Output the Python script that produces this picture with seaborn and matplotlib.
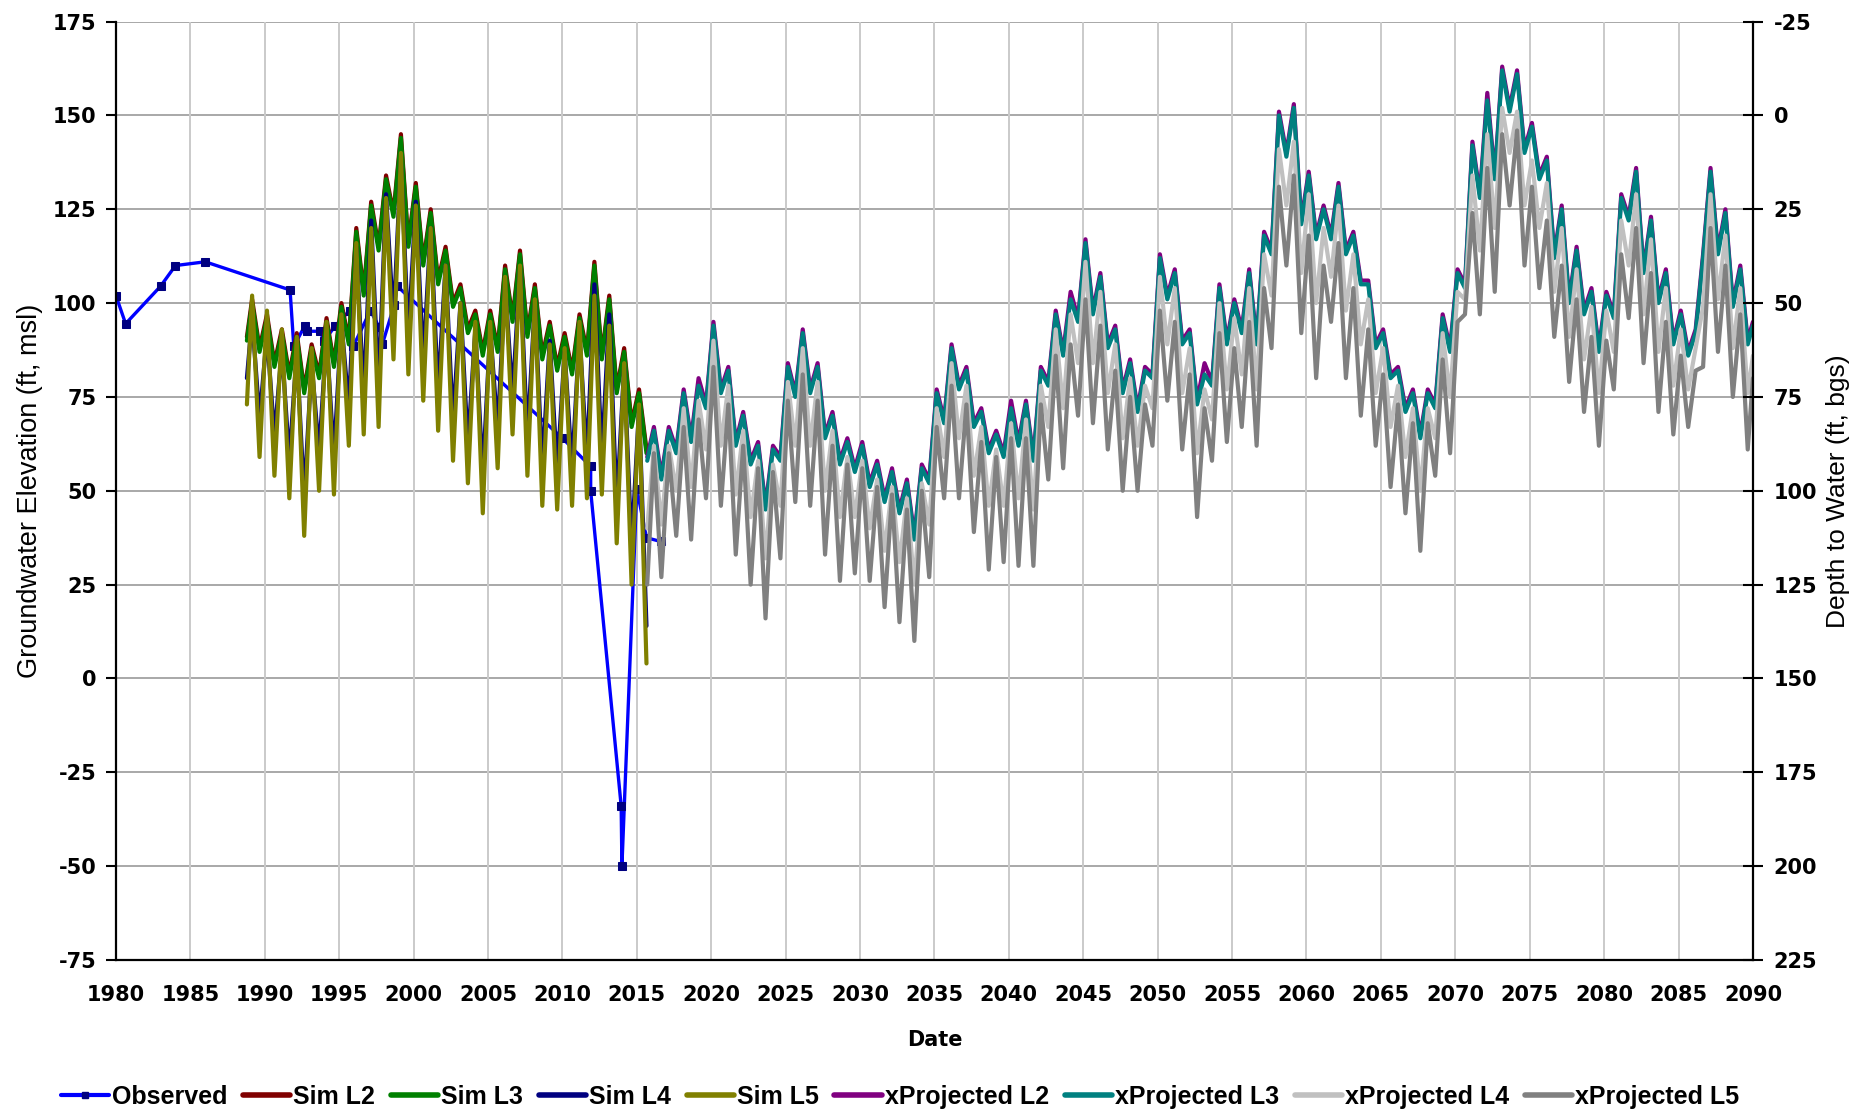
import matplotlib
matplotlib.use("Agg")
import matplotlib.pyplot as plt
import pandas as pd
import seaborn as sns
from matplotlib.lines import Line2D

# ---------------- data ----------------
# Observed groundwater elevations (decimal year, ft msl)
obs_year = [1980.0, 1980.65, 1983.0, 1984.0, 1986.0, 1991.7, 1991.95, 1992.7, 1992.85,
            1993.7, 1994.0, 1994.75, 1995.7, 1995.95, 1997.1, 1997.7, 1997.9, 1998.7,
            1998.9, 2010.0, 2011.9, 2011.9, 2013.95, 2014.0, 2015.0, 2015.65, 2016.6]
obs_elev = [102, 94.5, 104.5, 110, 111, 103.5, 88.5, 94, 92.5,
            92.5, 90, 94, 98, 88.5, 98, 93.5, 89, 99.5,
            104.5, 64, 56.5, 50, -34, -50, 50.5, 37.5, 36.5]

# Simulated period: annual high / low per year
sim_years = list(range(1989, 2016))
sim_first_year = 1988.8
sim_first = {"L2": 91, "L3": 90, "L4": 80, "L5": 73}
sim_l2_high = [101, 97, 93, 92, 89, 96, 100, 120, 127, 134, 145, 132, 125, 115, 105, 98, 98, 110, 114, 105, 95, 92, 97, 111, 102, 88, 77]
sim_l2_low = [88, 84, 81, 77, 81, 84, 90, 103, 115, 124, 116, 111, 106, 100, 93, 87, 88, 96, 92, 86, 83, 82, 87, 86, 77, 68, 61]
sim_l3_high = [100, 96, 92, 91, 88, 95, 99, 119, 126, 133, 144, 131, 124, 114, 104, 97, 97, 109, 113, 104, 94, 91, 96, 110, 101, 87, 76]
sim_l3_low = [87, 83, 80, 76, 80, 83, 89, 102, 114, 123, 115, 110, 105, 99, 92, 86, 87, 95, 91, 85, 82, 81, 86, 85, 76, 67, 60]
sim_l4_high = [96, 92, 88, 87, 84, 91, 95, 115, 122, 129, 138, 127, 120, 110, 100, 93, 93, 105, 109, 100, 90, 87, 92, 105, 97, 83, 72]
sim_l4_low = [69, 64, 58, 48, 60, 59, 72, 75, 77, 95, 91, 84, 76, 68, 62, 54, 66, 75, 64, 56, 55, 56, 58, 59, 46, 35, 14]
sim_l5_high = [102, 98, 93, 91, 88, 95, 97, 116, 120, 128, 140, 126, 120, 110, 100, 95, 95, 107, 110, 101, 89, 88, 95, 102, 94, 84, 73]
sim_l5_low = [59, 54, 48, 38, 50, 49, 62, 65, 67, 85, 81, 74, 66, 58, 52, 44, 56, 65, 54, 46, 45, 46, 48, 49, 36, 25, 4]

# Projected period: annual high / low per year
proj_years = list(range(2016, 2090))
proj_first_year, proj_last_year = 2015.7, 2090.0
proj_first = {"L2": 59, "L3": 58, "L4": 40, "L5": 25}
proj_last = {"L2": 95, "L3": 94, "L4": 86, "L5": 80}
proj_l3_high = [66, 66, 76, 78, 94, 82, 70, 62, 61, 83,
                92, 83, 70, 63, 62, 57, 55, 52, 56, 76,
                88, 82, 71, 65, 72, 73, 82, 97, 101, 116,
                107, 93, 84, 82, 112, 108, 92, 81, 104, 100,
                108, 118, 150, 152, 134, 125, 131, 118, 105, 92,
                82, 76, 76, 96, 108, 142, 154, 162, 161, 147,
                138, 125, 114, 103, 102, 128, 135, 122, 108, 97,
                92, 135, 124, 109]
proj_l3_low = [53, 60, 63, 72, 76, 62, 57, 45, 58, 75,
               76, 64, 57, 55, 51, 47, 44, 37, 52, 68,
               77, 67, 60, 59, 62, 58, 78, 86, 95, 97,
               88, 76, 71, 80, 101, 89, 73, 78, 89, 92,
               89, 113, 139, 121, 117, 117, 113, 105, 88, 80,
               71, 64, 72, 87, 104, 128, 133, 151, 140, 133,
               112, 100, 97, 87, 96, 122, 108, 100, 89, 86,
               112, 113, 99, 89]
proj_l2_high = [67, 67, 77, 80, 95, 83, 71, 63, 62, 84,
                93, 84, 71, 64, 63, 58, 56, 53, 57, 77,
                89, 83, 72, 66, 74, 74, 83, 98, 103, 117,
                108, 94, 85, 83, 113, 109, 93, 84, 105, 101,
                109, 119, 151, 153, 135, 126, 132, 119, 106, 93,
                83, 77, 77, 97, 109, 143, 156, 163, 162, 148,
                139, 126, 115, 104, 103, 129, 136, 123, 109, 98,
                93, 136, 125, 110]
proj_l2_low = [54, 61, 64, 73, 77, 63, 58, 46, 59, 76,
               77, 65, 58, 56, 52, 48, 45, 38, 53, 69,
               78, 68, 61, 60, 63, 59, 79, 87, 96, 98,
               89, 77, 72, 81, 102, 90, 74, 79, 90, 93,
               90, 114, 140, 122, 118, 118, 114, 106, 89, 81,
               72, 65, 73, 88, 105, 129, 134, 152, 141, 134,
               113, 101, 98, 88, 97, 123, 109, 101, 90, 87,
               113, 114, 100, 90]
proj_l4_high = [62, 62, 72, 74, 90, 78, 66, 58, 57, 79,
                88, 79, 66, 59, 58, 53, 51, 48, 52, 72,
                84, 78, 67, 61, 68, 69, 78, 93, 97, 111,
                103, 89, 80, 78, 107, 104, 88, 77, 100, 96,
                104, 113, 141, 143, 129, 120, 126, 113, 101, 88,
                78, 72, 72, 92, 103, 134, 145, 152, 151, 138,
                132, 120, 109, 99, 98, 122, 129, 117, 104, 93,
                88, 129, 118, 104]
proj_l4_low = [41, 50, 51, 61, 62, 49, 43, 32, 46, 62,
               62, 50, 43, 43, 40, 34, 31, 25, 41, 59,
               64, 54, 46, 46, 48, 45, 67, 72, 84, 84,
               76, 64, 62, 72, 89, 76, 60, 69, 77, 81,
               77, 102, 126, 108, 100, 107, 98, 89, 76, 67,
               59, 50, 64, 75, 101, 114, 120, 140, 126, 120,
               103, 91, 85, 76, 87, 110, 97, 87, 78, 77,
               99, 101, 88, 76]
proj_l5_high = [60, 60, 67, 69, 83, 73, 62, 56, 55, 74,
                81, 74, 62, 57, 56, 51, 49, 45, 50, 67,
                78, 73, 63, 59, 64, 64, 73, 86, 89, 101,
                94, 82, 75, 73, 98, 95, 81, 72, 92, 88,
                95, 104, 131, 134, 118, 110, 116, 104, 93, 81,
                73, 68, 68, 85, 95, 124, 136, 145, 146, 131,
                122, 110, 101, 91, 90, 113, 120, 108, 95, 86,
                82, 120, 110, 97]
proj_l5_low = [27, 38, 37, 48, 46, 33, 25, 16, 32, 47,
               46, 33, 26, 28, 26, 19, 15, 10, 27, 48,
               48, 39, 29, 31, 30, 30, 53, 56, 70, 68,
               61, 50, 50, 62, 74, 61, 43, 58, 63, 67,
               62, 88, 110, 92, 80, 95, 80, 70, 62, 51,
               44, 34, 54, 60, 97, 97, 103, 126, 110, 104,
               91, 79, 71, 62, 77, 96, 84, 71, 65, 67,
               83, 87, 75, 61]

series_names = ["Observed", "Sim L2", "Sim L3", "Sim L4", "Sim L5",
                "xProjected L2", "xProjected L3", "xProjected L4", "xProjected L5"]
series_colors = ["#0000FF", "#800000", "#008000", "#000080", "#808000",
                 "#800080", "#008080", "#C0C0C0", "#808080"]


def seasonal_frame(years, highs, lows, first=None, last=None):
    """Annual high (late winter) and low (late summer) as one time series."""
    xs, ys = [], []
    if first is not None:
        xs.append(first[0]); ys.append(first[1])
    for yr, hi, lo in zip(years, highs, lows):
        xs += [yr + 0.15, yr + 0.65]
        ys += [hi, lo]
    if last is not None:
        xs.append(last[0]); ys.append(last[1])
    return pd.DataFrame({"year": xs, "elev": ys})


sns.set_style("white")
plt.rcParams["font.family"] = ["DejaVu Sans"]
plt.rcParams.update({"text.color": "black", "axes.labelcolor": "black",
                     "xtick.color": "black", "ytick.color": "black"})

fig = plt.figure(figsize=(18.7, 11.11), dpi=100)
ax = fig.add_axes([0.0620, 0.1359, 0.8754, 0.8447])

# grid
for yv in range(-75, 176, 25):
    ax.axhline(yv, color="#A8A8A8", lw=1.4, zorder=0)
for xv in range(1985, 2090, 5):
    ax.axvline(xv, color="#CACACA", lw=1.4, zorder=0)

line_kw = dict(estimator=None, sort=False, legend=False, ax=ax,
               solid_joinstyle="round", solid_capstyle="round")

# observed
obs_df = pd.DataFrame({"year": obs_year, "elev": obs_elev})
sns.lineplot(data=obs_df, x="year", y="elev", color=series_colors[0], lw=2.4,
             marker="s", markersize=5.5, markerfacecolor="#000080",
             markeredgecolor="#000080", zorder=2, **line_kw)

# simulated
sim_sets = [("L2", sim_l2_high, sim_l2_low), ("L3", sim_l3_high, sim_l3_low),
            ("L4", sim_l4_high, sim_l4_low), ("L5", sim_l5_high, sim_l5_low)]
for i, (key, hi, lo) in enumerate(sim_sets):
    df = seasonal_frame(sim_years, hi, lo, first=(sim_first_year, sim_first[key]))
    sns.lineplot(data=df, x="year", y="elev", color=series_colors[1 + i], lw=3.0,
                 zorder=3 + i, **line_kw)

# projected
proj_sets = [("L2", proj_l2_high, proj_l2_low), ("L3", proj_l3_high, proj_l3_low),
             ("L4", proj_l4_high, proj_l4_low), ("L5", proj_l5_high, proj_l5_low)]
for i, (key, hi, lo) in enumerate(proj_sets):
    df = seasonal_frame(proj_years, hi, lo,
                        first=(proj_first_year, proj_first[key]),
                        last=(proj_last_year, proj_last[key]))
    sns.lineplot(data=df, x="year", y="elev", color=series_colors[5 + i], lw=3.0,
                 zorder=7 + i, **line_kw)

# axes
ax.set_xlim(1980, 2090)
ax.set_ylim(-75, 175)
ax.set_xticks(range(1980, 2091, 5))
ax.set_yticks(range(-75, 176, 25))
tick_font = dict(fontsize=15, fontweight="bold", family="DejaVu Sans")
ax.set_xticklabels([str(v) for v in range(1980, 2091, 5)], **tick_font)
ax.set_yticklabels([str(v) for v in range(-75, 176, 25)], **tick_font)
ax.tick_params(axis="x", direction="out", length=7, width=1.5, color="black", pad=11)
ax.tick_params(axis="y", direction="out", length=7, width=1.5, color="black", pad=7)
ax.set_xlabel("Date", fontsize=15, fontweight="bold", labelpad=18)
ax.set_ylabel("Groundwater Elevation (ft, msl)", fontsize=19.5,
              family="Liberation Sans", labelpad=7)
for side in ["left", "bottom"]:
    ax.spines[side].set_color("black")
    ax.spines[side].set_linewidth(1.6)
ax.spines["top"].set_visible(False)
ax.spines["right"].set_visible(False)

ax2 = ax.twinx()
ax2.set_ylim(225, -25)
ax2.set_yticks(range(-25, 226, 25))
ax2.set_yticklabels([str(v) for v in range(-25, 226, 25)], **tick_font)
ax2.tick_params(axis="y", direction="inout", length=14, width=1.5, color="black", pad=8)
ax2.set_ylabel("Depth to Water (ft, bgs)", fontsize=19, family="Liberation Sans",
               labelpad=6)
for side in ["left", "bottom", "top"]:
    ax2.spines[side].set_visible(False)
ax2.spines["right"].set_color("black")
ax2.spines["right"].set_linewidth(1.6)
ax2.grid(False)

# legend
handles = []
for name, col in zip(series_names, series_colors):
    if name == "Observed":
        handles.append(Line2D([], [], color=col, lw=3, marker="s", markersize=5,
                              markerfacecolor="#000080", markeredgecolor="#000080"))
    else:
        handles.append(Line2D([], [], color=col, lw=4))
fig.legend(handles, series_names, loc="center", bbox_to_anchor=(0.4815, 0.0125),
           ncol=9, frameon=False, handlelength=1.9, handletextpad=0.12,
           columnspacing=0.62, prop={"family": "Liberation Sans", "weight": "bold",
                                      "size": 18})

fig.savefig("out.png", dpi=100)
